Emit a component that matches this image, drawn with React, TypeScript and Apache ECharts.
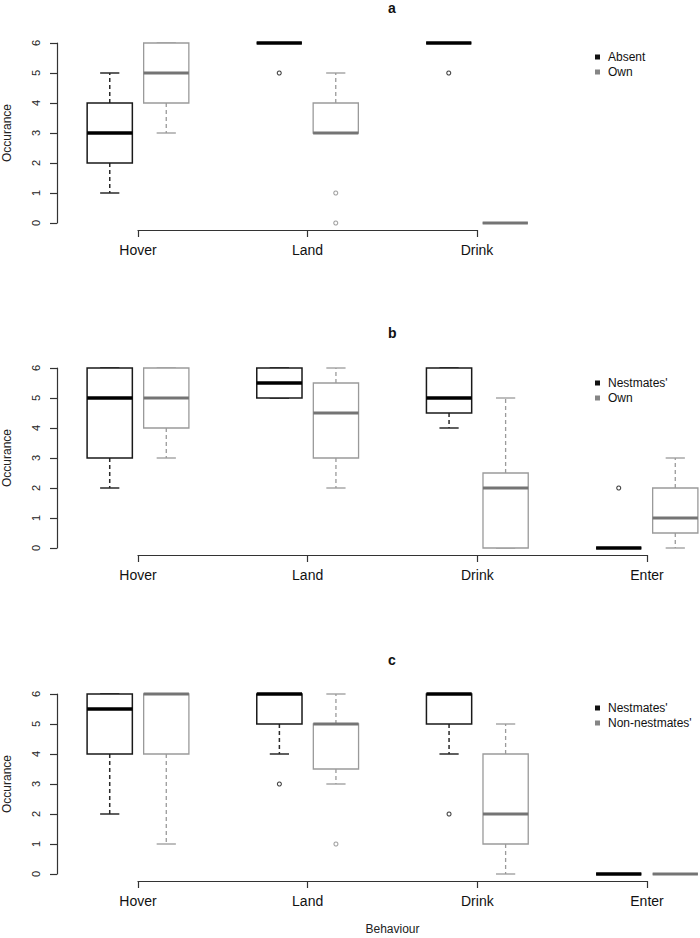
import React, { useEffect, useRef } from "react";
import * as echarts from "echarts";

// Behaviour categories (x axis tick labels)
const categories = ["Hover", "Land", "Drink", "Enter"];
const yTicks = [0, 1, 2, 3, 4, 5, 6];

// Box stats: [lower whisker, Q1, median, Q3, upper whisker]
// Panel a
const aAbsent = [[1, 2, 3, 4, 5], [6, 6, 6, 6, 6], [6, 6, 6, 6, 6]];
const aAbsentOut = [[], [5], [5]];
const aOwn = [[3, 4, 5, 6, 6], [3, 3, 3, 4, 5], [0, 0, 0, 0, 0]];
const aOwnOut = [[], [1, 0], [1]];
// Panel b
const bNest = [[2, 3, 5, 6, 6], [5, 5, 5.5, 6, 6], [4, 4.5, 5, 6, 6], [0, 0, 0, 0, 0]];
const bNestOut = [[], [], [], [2]];
const bOwn = [[3, 4, 5, 6, 6], [2, 3, 4.5, 5.5, 6], [0, 0, 2, 2.5, 5], [0, 0.5, 1, 2, 3]];
const bOwnOut = [[], [], [], []];
// Panel c
const cNest = [[2, 4, 5.5, 6, 6], [4, 5, 6, 6, 6], [4, 5, 6, 6, 6], [0, 0, 0, 0, 0]];
const cNestOut = [[], [3], [2], []];
const cNon = [[1, 4, 6, 6, 6], [3, 3.5, 5, 5, 6], [0, 1, 2, 4, 5], [0, 0, 0, 0, 0]];
const cNonOut = [[], [1], [], [1]];

const FONT = "'Liberation Sans', Arial, sans-serif";

type Sty = { box: string; med: string; whisk: string; lw: number; mw: number };
const DARK: Sty = { box: "#1a1a1a", med: "#000000", whisk: "#2a2a2a", lw: 1.5, mw: 3.5 };
const LIGHT: Sty = { box: "#9a9a9a", med: "#747474", whisk: "#9a9a9a", lw: 1.3, mw: 3.2 };

function boxSeries(name: string, stats: number[][], side: number, idx: number, s: Sty) {
  const data = stats.map((st, i) => [i * 3 + side * 0.5, ...st]);
  return {
    type: "custom",
    name,
    xAxisIndex: idx,
    yAxisIndex: idx,
    itemStyle: { color: s === DARK ? "#111111" : "#858585" },
    encode: { x: 0, y: [1, 2, 3, 4, 5] },
    data,
    renderItem: (_p: any, api: any) => {
      const x = api.value(0);
      const v = [1, 2, 3, 4, 5].map((k) => api.coord([x, api.value(k)]));
      const cx = v[0][0];
      const bw = api.size([0.8, 0])[0];
      const cw = api.size([0.34, 0])[0];
      const [lo, q1, md, q3, hi] = v.map((p: number[]) => p[1]);
      const dash = { stroke: s.whisk, lineWidth: s.lw, lineDash: [4, 3], fill: "none" };
      const solid = { stroke: s.whisk, lineWidth: s.lw, fill: "none" };
      return {
        type: "group",
        children: [
          { type: "line", shape: { x1: cx, y1: q3, x2: cx, y2: hi }, style: dash },
          { type: "line", shape: { x1: cx, y1: q1, x2: cx, y2: lo }, style: dash },
          { type: "line", shape: { x1: cx - cw / 2, y1: hi, x2: cx + cw / 2, y2: hi }, style: solid },
          { type: "line", shape: { x1: cx - cw / 2, y1: lo, x2: cx + cw / 2, y2: lo }, style: solid },
          {
            type: "rect",
            shape: { x: cx - bw / 2, y: q3, width: bw, height: q1 - q3 },
            style: { fill: "#ffffff", stroke: s.box, lineWidth: s.lw },
          },
          {
            type: "line",
            shape: { x1: cx - bw / 2, y1: md, x2: cx + bw / 2, y2: md },
            style: { stroke: s.med, lineWidth: s.mw, fill: "none" },
          },
        ],
      };
    },
  };
}

function outSeries(name: string, outs: number[][], side: number, idx: number, color: string) {
  const data: number[][] = [];
  outs.forEach((o, i) => o.forEach((val) => data.push([i * 3 + side * 0.5, val])));
  return {
    type: "scatter",
    name,
    xAxisIndex: idx,
    yAxisIndex: idx,
    symbol: "circle",
    symbolSize: 4,
    itemStyle: { color: "#ffffff", borderColor: color, borderWidth: 1.1 },
    data,
    z: 3,
  };
}

const grids = [
  { left: 138, top: 43, width: 339, height: 180, outerBoundsMode: "none", containLabel: false },
  { left: 138, top: 368, width: 509, height: 180, outerBoundsMode: "none", containLabel: false },
  { left: 138, top: 694, width: 509, height: 180, outerBoundsMode: "none", containLabel: false },
];
const xMax = [6, 9, 9];

export default function App() {
  const ref = useRef<HTMLDivElement>(null);
  useEffect(() => {
    if (!ref.current) return;
    const chart = echarts.init(ref.current, undefined, { renderer: "svg" });
    const xAxis = grids.map((_, i) => ({
      type: "value",
      gridIndex: i,
      min: 0,
      max: xMax[i],
      interval: 3,
      offset: 7,
      position: "bottom",
      splitLine: { show: false },
      axisLine: { show: true, onZero: false, lineStyle: { color: "#333", width: 1.2 } },
      axisTick: { show: true, length: 7, lineStyle: { color: "#333", width: 1.2 } },
      axisLabel: {
        formatter: (v: number) => categories[Math.round(v / 3)] ?? "",
        fontSize: 14,
        color: "#111",
        margin: 13,
        fontFamily: FONT,
        showMinLabel: true,
        showMaxLabel: true,
      },
      ...(i === 2
        ? {
            name: "Behaviour",
            nameLocation: "middle",
            nameGap: 42,
            nameTextStyle: { fontSize: 12, color: "#222", fontFamily: FONT },
          }
        : {}),
    }));
    const yAxis = grids.map((_, i) => ({
      type: "value",
      gridIndex: i,
      min: yTicks[0],
      max: yTicks[yTicks.length - 1],
      interval: 1,
      offset: 81,
      position: "left",
      splitLine: { show: false },
      axisLine: { show: true, onZero: false, lineStyle: { color: "#333", width: 1.2 } },
      axisTick: { show: true, length: 7, lineStyle: { color: "#333", width: 1.2 } },
      axisLabel: { rotate: 90, fontSize: 11, color: "#222", margin: 16, fontFamily: FONT },
      name: "Occurance",
      nameLocation: "middle",
      nameRotate: 90,
      nameGap: 44,
      nameTextStyle: { fontSize: 12, color: "#222", fontFamily: FONT },
    }));
    const legendBase = {
      orient: "vertical",
      left: 595,
      padding: 0,
      icon: "path://M0,0H10V10H0Z",
      itemWidth: 11,
      itemHeight: 5,
      itemGap: 1,
      selectedMode: false,
      textStyle: { fontSize: 12, color: "#111", fontFamily: FONT, lineHeight: 14 },
    };
    chart.setOption({
      animation: false,
      textStyle: { fontFamily: FONT },
      title: [
        { text: "a", left: 388, top: 1 },
        { text: "b", left: 388, top: 326 },
        { text: "c", left: 388, top: 653 },
      ].map((t) => ({
        ...t,
        padding: 0,
        textStyle: { fontSize: 14, fontWeight: "bold", color: "#111", fontFamily: FONT },
      })),
      legend: [
        { ...legendBase, top: 50, data: ["Absent", "Own"] },
        { ...legendBase, top: 376, data: ["Nestmates'", "Own"] },
        { ...legendBase, top: 701, data: ["Nestmates'", "Non-nestmates'"] },
      ],
      grid: grids,
      xAxis,
      yAxis,
      series: [
        boxSeries("Absent", aAbsent, -1, 0, DARK),
        boxSeries("Own", aOwn, 1, 0, LIGHT),
        outSeries("a-out-1", aAbsentOut, -1, 0, "#111"),
        outSeries("a-out-2", aOwnOut, 1, 0, "#8a8a8a"),
        boxSeries("Nestmates'", bNest, -1, 1, DARK),
        boxSeries("Own", bOwn, 1, 1, LIGHT),
        outSeries("b-out-1", bNestOut, -1, 1, "#111"),
        outSeries("b-out-2", bOwnOut, 1, 1, "#8a8a8a"),
        boxSeries("Nestmates'", cNest, -1, 2, DARK),
        boxSeries("Non-nestmates'", cNon, 1, 2, LIGHT),
        outSeries("c-out-1", cNestOut, -1, 2, "#111"),
        outSeries("c-out-2", cNonOut, 1, 2, "#8a8a8a"),
      ],
    });
    return () => chart.dispose();
  }, []);
  return (
    <div
      ref={ref}
      style={{ position: "absolute", left: 0, top: 0, width: 700, height: 938, background: "#fff" }}
    />
  );
}
